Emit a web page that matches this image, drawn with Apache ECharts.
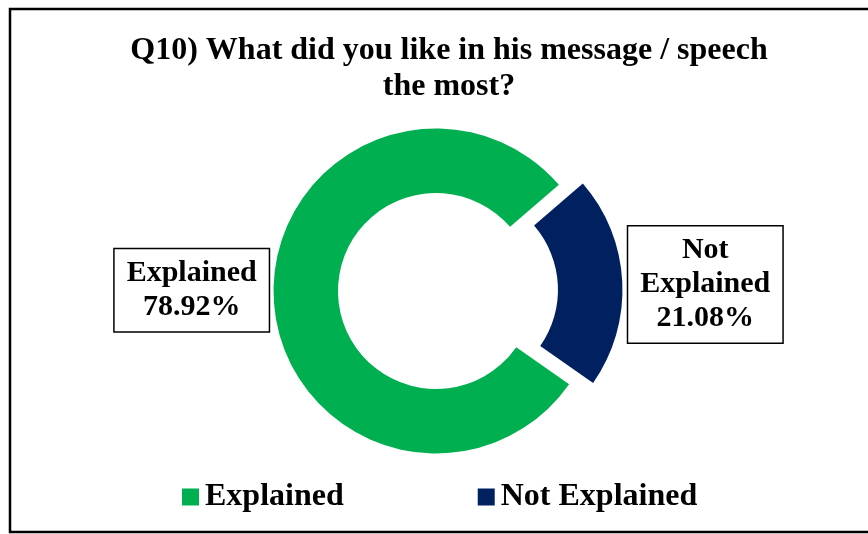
<!DOCTYPE html>
<html>
<head>
<meta charset="utf-8">
<style>
  html, body { margin: 0; padding: 0; background: #ffffff; }
  #chart { width: 868px; height: 534px; }
</style>
<script src="https://cdn.jsdelivr.net/npm/echarts@6/dist/echarts.min.js"></script>
</head>
<body>
<div id="chart"></div>
<script>
// ---- data ----
var titleText = "Q10) What did you like in his message / speech\nthe most?";
var categories = ["Explained", "Not Explained"];
var values = [78.92, 21.08];
var colors = ["#00B050", "#002060"];

var FONT = "'Liberation Serif', 'Times New Roman', serif";

var chart = echarts.init(document.getElementById('chart'), null, { renderer: 'canvas' });

var pieData = categories.map(function (c, i) {
  return {
    name: c,
    value: values[i],
    selected: i === 1,
    itemStyle: { color: colors[i] }
  };
});

var lineStyle = {
  align: 'center',
  fontFamily: FONT,
  fontWeight: 'bold',
  fontSize: 30,
  lineHeight: 34,
  color: '#000000'
};

var option = {
  backgroundColor: '#ffffff',
  animation: false,
  title: {
    text: titleText,
    left: 444,
    top: 28,
    textAlign: 'center',
    textStyle: {
      fontFamily: FONT,
      fontWeight: 'bold',
      fontSize: 32,
      lineHeight: 36,
      color: '#000000'
    }
  },
  legend: {
    data: categories,
    left: 177,
    top: 476,
    itemWidth: 17,
    itemHeight: 17,
    itemGap: 134,
    icon: 'rect',
    selectedMode: false,
    textStyle: {
      fontFamily: FONT,
      fontWeight: 'bold',
      fontSize: 32,
      color: '#000000',
      padding: [0, 0, 0, 1]
    }
  },
  graphic: [{
    type: 'rect',
    shape: { x: 10, y: 9, width: 880, height: 523 },
    style: { fill: 'none', stroke: '#000000', lineWidth: 2.5 },
    silent: true,
    z: 100
  }],
  series: [{
    type: 'pie',
    center: [436, 291],
    radius: [98, 162.5],
    startAngle: -35,
    clockwise: true,
    selectedMode: 'single',
    selectedOffset: 24,
    avoidLabelOverlap: false,
    emphasis: { disabled: true },
    itemStyle: { borderWidth: 0 },
    label: {
      show: true,
      position: 'outside',
      distanceToLabelLine: 4,
      fontFamily: FONT,
      fontWeight: 'bold',
      fontSize: 30,
      lineHeight: 34,
      color: '#000000',
      backgroundColor: '#ffffff',
      borderColor: '#000000',
      borderWidth: 1.5,
      padding: [7, 12, 7, 12],
      rich: { c: lineStyle },
      formatter: function (p) {
        var lines = p.name.split(' ');
        lines.push(values[p.dataIndex].toFixed(2) + '%');
        return lines.map(function (l) { return '{c|' + l + '}'; }).join('\n');
      }
    },
    labelLayout: function (params) {
      return params.dataIndex === 0 ? { dx: -1, dy: -9 } : { dx: 2, dy: 3 };
    },
    labelLine: { show: false, length: 0, length2: 0 },
    data: pieData
  }]
};

chart.setOption(option);
</script>
</body>
</html>
